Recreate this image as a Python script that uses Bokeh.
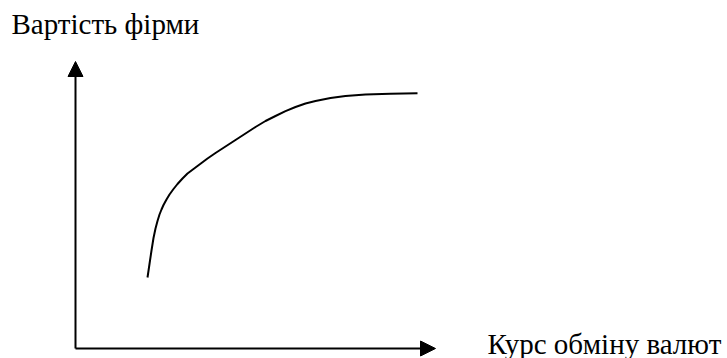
from bokeh.plotting import figure
from bokeh.models import Range1d, Arrow, NormalHead, Label
from bokeh.embed import file_html
from bokeh.resources import INLINE

# Curve: firm value vs exchange rate (schematic units, origin at axes corner)
curve_x = [72, 74, 76, 78, 80, 82, 84, 86, 88, 91, 94, 98, 102, 107, 112, 118, 124, 132, 140,
           150, 160, 170, 180, 190, 200, 210, 220, 230, 240, 255, 270, 290, 315, 342]
curve_y = [71, 84.5, 98, 110.5, 120, 127.5, 134, 139, 143.5, 149, 154, 159.5, 164.5, 170, 175,
           179.5, 184, 190, 195.5, 202, 208.5, 215, 221.5, 227.5, 232.5, 237.3, 241.5, 245, 247.5,
           250.5, 252.5, 254, 254.8, 255.3]

# Axes (start and end points)
y_axis_x = [0, 0]
y_axis_y = [0, 287]
x_axis_x = [0, 360]
x_axis_y = [0, 0]

y_label = "Вартість фірми"
x_label = "Курс обміну валют"

FONT = "Liberation Serif"

p = figure(width=727, height=358, output_backend="svg", toolbar_location=None,
           x_range=Range1d(-75, 652), y_range=Range1d(-10, 348),
           min_border=0, min_border_left=0, min_border_right=0,
           min_border_top=0, min_border_bottom=0)
p.axis.visible = False
p.grid.visible = False
p.outline_line_color = None
p.background_fill_color = "white"
p.border_fill_color = "white"

p.line(curve_x, curve_y, line_color="black", line_width=2)

p.add_layout(Arrow(end=NormalHead(size=15, fill_color="black", line_color="black", line_width=1),
                   x_start=y_axis_x[0], y_start=y_axis_y[0], x_end=y_axis_x[1], y_end=y_axis_y[1],
                   line_color="black", line_width=2))
p.add_layout(Arrow(end=NormalHead(size=15, fill_color="black", line_color="black", line_width=1),
                   x_start=x_axis_x[0], y_start=x_axis_y[0], x_end=x_axis_x[1], y_end=x_axis_y[1],
                   line_color="black", line_width=2))

p.add_layout(Label(x=-64, y=325, text=y_label, text_font=FONT, text_font_size="29px",
                   text_color="black", text_baseline="alphabetic", text_align="left"))
p.add_layout(Label(x=412, y=5, text=x_label, text_font=FONT, text_font_size="29px",
                   text_color="black", text_baseline="alphabetic", text_align="left"))

open("out.html", "w").write(file_html(p, INLINE))
